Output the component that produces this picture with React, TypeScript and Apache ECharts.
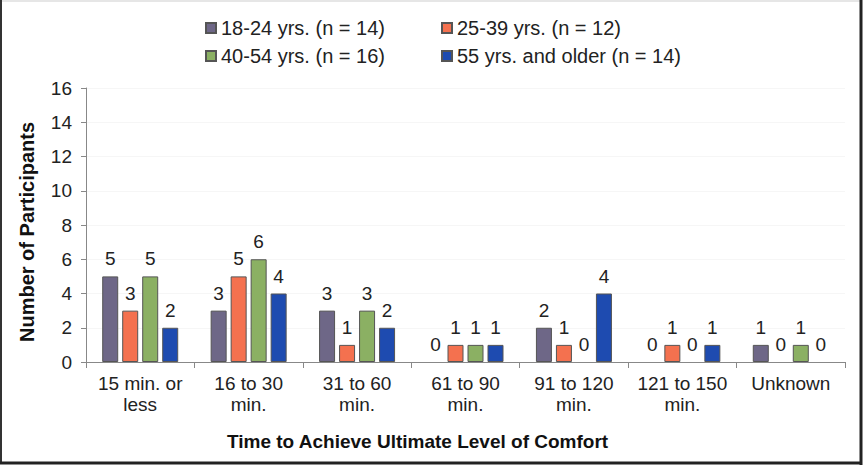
import React, { useEffect, useRef } from "react";
import * as echarts from "echarts";

const categories = [
  "15 min. or\nless",
  "16 to 30\nmin.",
  "31 to 60\nmin.",
  "61 to 90\nmin.",
  "91 to 120\nmin.",
  "121 to 150\nmin.",
  "Unknown",
];
const seriesNames = [
  "18-24 yrs. (n = 14)",
  "25-39 yrs. (n = 12)",
  "40-54 yrs. (n = 16)",
  "55 yrs. and older (n = 14)",
];
const age18to24 = [5, 3, 3, 0, 2, 0, 1];
const age25to39 = [3, 5, 1, 1, 1, 1, 0];
const age40to54 = [5, 6, 3, 1, 0, 0, 1];
const age55plus = [2, 4, 2, 1, 4, 1, 0];
const seriesValues = [age18to24, age25to39, age40to54, age55plus];
const seriesColors = ["#6E6787", "#F4714F", "#8BB063", "#1E4BB0"];
const yTicks = { min: 0, max: 16, interval: 2 };

const FONT = "Liberation Sans, Arial, sans-serif";

export default function App() {
  const ref = useRef<HTMLDivElement>(null);
  useEffect(() => {
    document.body.style.margin = "0";
    const chart = echarts.init(ref.current!, null, { renderer: "svg" });
    const legendPos = [
      { left: 200, top: 13 },
      { left: 436, top: 13 },
      { left: 200, top: 41 },
      { left: 436, top: 41 },
    ];
    chart.setOption({
      animation: false,
      backgroundColor: "#ffffff",
      textStyle: { fontFamily: FONT },
      legend: seriesNames.map((n, i) => ({
        data: [n],
        left: legendPos[i].left,
        top: legendPos[i].top,
        icon: "rect",
        itemWidth: 10,
        itemHeight: 10,
        itemGap: 0,
        selectedMode: false,
        textStyle: { fontSize: 20, color: "#222", fontFamily: FONT },
      })),
      grid: { left: 86, right: 19, top: 88, bottom: 105 },
      xAxis: {
        type: "category",
        data: categories,
        axisLine: { lineStyle: { color: "#888", width: 1 } },
        axisTick: { show: true, length: 6, lineStyle: { color: "#888" } },
        axisLabel: {
          fontSize: 19,
          color: "#222",
          margin: 11,
          lineHeight: 21,
          interval: 0,
          fontFamily: FONT,
        },
      },
      yAxis: {
        type: "value",
        min: yTicks.min,
        max: yTicks.max,
        interval: yTicks.interval,
        axisLine: { show: true, lineStyle: { color: "#888", width: 1 } },
        axisTick: { show: true, length: 5, lineStyle: { color: "#888" } },
        axisLabel: { fontSize: 19, color: "#222", margin: 14, fontFamily: FONT },
        splitLine: { show: true, lineStyle: { color: "#f6f6f6" } },
      },
      series: seriesNames.map((n, i) => ({
        name: n,
        type: "bar",
        data: seriesValues[i].map((v) => ({
          value: v,
          itemStyle: v === 0 ? { borderWidth: 0 } : undefined,
        })),
        barWidth: 16,
        barGap: "25%",
        itemStyle: {
          color: seriesColors[i],
          borderColor: "#555",
          borderWidth: 1,
        },
        label: {
          show: true,
          position: "top",
          distance: 8,
          fontSize: 19,
          color: "#222",
          fontFamily: FONT,
        },
      })),
      graphic: [
        {
          type: "text",
          left: 227,
          top: 432,
          style: {
            text: "Time to Achieve Ultimate Level of Comfort",
            fontSize: 19,
            fontWeight: "bold",
            fill: "#111",
            fontFamily: FONT,
          },
        },
        {
          type: "text",
          x: 27,
          y: 232,
          rotation: Math.PI / 2,
          style: {
            text: "Number of Participants",
            fontSize: 20,
            fontWeight: "bold",
            fill: "#111",
            fontFamily: FONT,
            align: "center",
            verticalAlign: "middle",
          },
        },
        { type: "line", shape: { x1: 0, y1: 1, x2: 862, y2: 1 }, style: { stroke: "#e6e6e6", lineWidth: 2 } },
        { type: "line", shape: { x1: 1, y1: 0, x2: 1, y2: 464 }, style: { stroke: "#333", lineWidth: 2 } },
        { type: "line", shape: { x1: 0, y1: 463, x2: 862, y2: 463 }, style: { stroke: "#222", lineWidth: 3 } },
        { type: "line", shape: { x1: 861, y1: 0, x2: 861, y2: 465 }, style: { stroke: "#222", lineWidth: 3 } },
      ],
    });
    return () => chart.dispose();
  }, []);
  return <div ref={ref} style={{ width: 864, height: 467 }} />;
}
